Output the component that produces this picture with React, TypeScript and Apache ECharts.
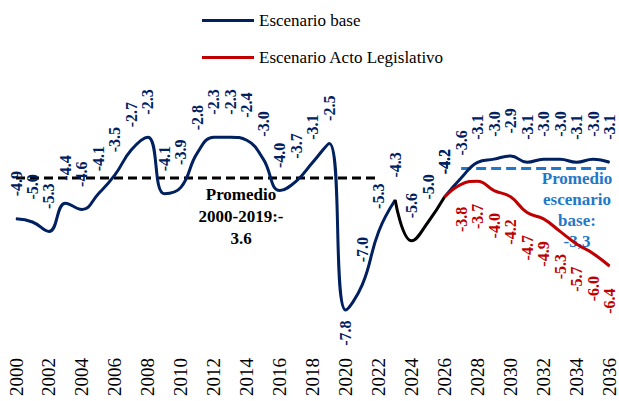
import React, { useEffect, useRef } from "react";
import * as echarts from "echarts";

const years: string[] = [];
for (let y = 2000; y <= 2036; y++) years.push(String(y));

// 2000-2023
const baseHist = [-4.9, -5.0, -5.3, -4.4, -4.6, -4.1, -3.5, -2.7, -2.3, -4.1, -3.9, -2.8, -2.3, -2.3, -2.4, -3.0, -4.0, -3.7, -3.1, -2.5, -7.8, -7.0, -5.3, -4.3];
// 2023-2026
const transition = [-4.3, -5.6, -5.0, -4.2];
// 2026-2036
const baseProj = [-4.2, -3.6, -3.1, -3.0, -2.9, -3.1, -3.0, -3.0, -3.1, -3.0, -3.1];
const legislativo = [-4.2, -3.8, -3.7, -4.0, -4.2, -4.7, -4.9, -5.3, -5.7, -6.0, -6.4];
const promedioHist = -3.6; // 2000-2022
const promedioBase = -3.3; // 2027-2036

const NAVY = "#002060";
const RED = "#C00000";
const LBLUE = "#1F78C8";
const FONT = "Liberation Serif";

function place(values: number[], startYear: number): (number | null)[] {
  const out: (number | null)[] = years.map(() => null);
  values.forEach((v, i) => {
    out[startYear - 2000 + i] = v;
  });
  return out;
}

const topLabel = (color: string) => ({
  show: true,
  position: "top",
  distance: 22,
  rotate: 90,
  align: "left",
  verticalAlign: "middle",
  color,
  fontFamily: FONT,
  fontWeight: "bold",
  fontSize: 16,
  formatter: (p: any) => (p.value == null ? "" : Number(p.value).toFixed(1)),
});

const bottomLabel = (color: string, distance = 22) => ({
  show: true,
  position: "bottom",
  distance,
  rotate: 90,
  align: "right",
  verticalAlign: "middle",
  color,
  fontFamily: FONT,
  fontWeight: "bold",
  fontSize: 16,
  formatter: (p: any) => (p.value == null ? "" : Number(p.value).toFixed(1)),
});

export default function App() {
  const ref = useRef<HTMLDivElement>(null);
  useEffect(() => {
    if (!ref.current) return;
    const chart = echarts.init(ref.current, undefined, { renderer: "svg" });

    const histData = place(baseHist, 2000).map((v) => {
      if (v === -7.8) return { value: v, label: bottomLabel(NAVY, 10) };
      return v;
    });
    const transData = place(transition, 2023).map((v, i) =>
      i === 23 ? { value: v, label: { show: false } } : v
    );
    const projData = place(baseProj, 2026);
    const legData = place(legislativo, 2026).map((v, i) =>
      i === 26 ? { value: v, label: { show: false } } : v
    );
    const avgHist = years.map((_, i) => (i <= 22 ? promedioHist : null));
    const avgBase = years.map((_, i) => (i >= 27 ? promedioBase : null));

    const lineCommon = {
      type: "line",
      smooth: 0.45,
      symbol: "circle",
      symbolSize: 1,
      connectNulls: false,
    };

    chart.setOption({
      animation: false,
      grid: { left: 16, right: 9, top: 112, bottom: 69, containLabel: false },
      legend: {
        orient: "vertical",
        left: 197,
        top: 7,
        itemWidth: 52,
        itemHeight: 3,
        itemGap: 20,
        textStyle: { fontFamily: FONT, fontSize: 17, color: "#000" },
        data: [
          { name: "Escenario base", icon: "rect" },
          { name: "Escenario Acto Legislativo", icon: "rect" },
        ],
      },
      xAxis: {
        type: "category",
        data: years,
        boundaryGap: false,
        axisLine: { show: false },
        axisTick: { show: false },
        splitLine: { show: false },
        axisLabel: {
          interval: 1,
          rotate: 90,
          margin: 26,
          fontFamily: FONT,
          fontSize: 19,
          color: "#000",
        },
      },
      yAxis: {
        type: "value",
        min: -8.5,
        max: -1.5,
        show: false,
        splitLine: { show: false },
      },
      series: [
        {
          name: "promHist",
          type: "line",
          data: avgHist,
          symbol: "none",
          lineStyle: { color: "#000", width: 3, type: [9, 5] },
          z: 1,
        },
        {
          name: "promBase",
          type: "line",
          data: avgBase,
          symbol: "none",
          lineStyle: { color: LBLUE, width: 3, type: [10, 5] },
          z: 1,
        },
        {
          ...lineCommon,
          name: "Escenario base",
          data: histData,
          itemStyle: { color: NAVY },
          lineStyle: { color: NAVY, width: 3 },
          label: topLabel(NAVY),
          z: 3,
        },
        {
          ...lineCommon,
          name: "transicion",
          data: transData,
          itemStyle: { color: "#000" },
          lineStyle: { color: "#000", width: 3 },
          label: topLabel(NAVY),
          z: 3,
        },
        {
          ...lineCommon,
          name: "Escenario base",
          data: projData,
          itemStyle: { color: NAVY },
          lineStyle: { color: NAVY, width: 3 },
          label: topLabel(NAVY),
          z: 3,
        },
        {
          ...lineCommon,
          name: "Escenario Acto Legislativo",
          data: legData,
          itemStyle: { color: RED },
          lineStyle: { color: RED, width: 3 },
          label: bottomLabel(RED, 22),
          z: 4,
        },
      ],
      graphic: [
        {
          type: "text",
          left: 241 - 60,
          top: 183,
          style: {
            text: "Promedio\n2000-2019:-\n3.6",
            width: 120,
            textAlign: "center",
            fontFamily: FONT,
            fontWeight: "bold",
            fontSize: 17,
            lineHeight: 22,
            fill: "#000",
          },
          z: 10,
        },
        {
          type: "text",
          left: 577 - 45,
          top: 168,
          style: {
            text: "Promedio\nescenario\nbase:\n-3,3",
            width: 90,
            textAlign: "center",
            fontFamily: FONT,
            fontWeight: "bold",
            fontSize: 17,
            lineHeight: 21,
            fill: LBLUE,
          },
          z: 2,
        },
      ],
    });
    return () => chart.dispose();
  }, []);
  return <div ref={ref} style={{ width: 619, height: 401, position: "absolute", left: 0, top: 0 }} />;
}
